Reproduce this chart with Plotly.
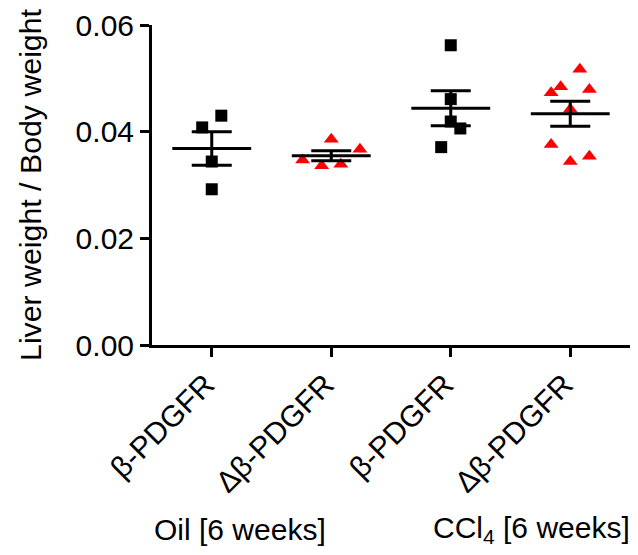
import numpy as np
import plotly.graph_objects as go

# ---- data ----
categories = ["β-PDGFR", "Δβ-PDGFR", "β-PDGFR", "Δβ-PDGFR"]
oil_beta = [0.0430, 0.0408, 0.0344, 0.0292]
oil_dbeta = [0.0386, 0.0367, 0.0347, 0.0336, 0.0339]
ccl4_beta = [0.0562, 0.0461, 0.0419, 0.0406, 0.0371]
ccl4_dbeta = [0.0517, 0.0484, 0.0473, 0.0479, 0.0442, 0.0376, 0.0354, 0.0344]
y_ticks = [0.00, 0.02, 0.04, 0.06]
group_labels = ["Oil [6 weeks]", "CCl<sub>4</sub> [6 weeks]"]

# horizontal scatter jitter of the points (category units)
jitter = [
    [0.08, -0.08, 0.0, 0.0],
    [0.0, 0.24, -0.24, -0.08, 0.08],
    [0.0, 0.0, 0.0, 0.08, -0.08],
    [0.08, -0.08, -0.16, 0.16, 0.0, -0.16, 0.16, 0.0],
]

series = [oil_beta, oil_dbeta, ccl4_beta, ccl4_dbeta]
symbols = ["square", "triangle-up", "square", "triangle-up"]
sizes = [12, 13, 12, 13]
colors = ["#000000", "#FF0000", "#000000", "#FF0000"]

FONT = "Arial, Liberation Sans, sans-serif"
fig = go.Figure()

for i, vals in enumerate(series):
    xs = [i + j for j in jitter[i]]
    fig.add_trace(go.Scatter(
        x=xs, y=vals, mode="markers",
        marker=dict(symbol=symbols[i], size=sizes[i], color=colors[i], line=dict(width=0)),
        showlegend=False, hoverinfo="y"))

for i, vals in enumerate(series):
    arr = np.array(vals)
    m = arr.mean()
    sem = arr.std(ddof=1) / np.sqrt(len(arr))
    # mean line
    fig.add_trace(go.Scatter(
        x=[i - 0.33, i + 0.33], y=[m, m], mode="lines",
        line=dict(color="black", width=3), showlegend=False, hoverinfo="skip"))
    # SEM error bar
    fig.add_trace(go.Scatter(
        x=[i], y=[m], mode="markers", marker=dict(size=2, color="rgba(0,0,0,0)"),
        error_y=dict(type="constant", value=sem, color="black", thickness=3, width=20),
        showlegend=False, hoverinfo="skip"))

# page has an 8px body margin: figure fills the rest of the 638x555 window
fig.update_layout(
    width=630, height=547,
    margin=dict(l=144, r=8, t=17, b=210),
    plot_bgcolor="white", paper_bgcolor="white",
    font=dict(family=FONT, size=30, color="black"),
    xaxis=dict(
        range=[-0.5, 3.5], tickmode="array", tickvals=[0, 1, 2, 3], ticktext=categories,
        tickangle=-45, showgrid=False, zeroline=False, automargin=False,
        showline=True, linecolor="black", linewidth=3,
        ticks="outside", ticklen=9, tickwidth=3, tickcolor="black",
        ticklabelstandoff=-2, ticklabelshift=-6,
        tickfont=dict(family=FONT, size=30, color="black"),
    ),
    yaxis=dict(
        range=[0, 0.06], tickmode="array", tickvals=y_ticks,
        ticktext=[f"{v:.2f}" for v in y_ticks],
        showgrid=False, zeroline=False, automargin=False,
        showline=True, linecolor="black", linewidth=3,
        ticks="outside", ticklen=9, tickwidth=3, tickcolor="black",
        tickfont=dict(family=FONT, size=30, color="black"),
        title=dict(text="Liver weight / Body weight", font=dict(family=FONT, size=30.3, color="black"), standoff=26),
    ),
)

fig.add_annotation(text=group_labels[0], xref="paper", yref="paper", x=0.0, y=-0.578,
                   xanchor="left", yanchor="middle", showarrow=False,
                   font=dict(family=FONT, size=30, color="black"))
fig.add_annotation(text=group_labels[1], xref="paper", yref="paper", x=1.004, y=-0.578,
                   xanchor="right", yanchor="middle", showarrow=False,
                   font=dict(family=FONT, size=30, color="black"))

fig.write_html("out.html")
